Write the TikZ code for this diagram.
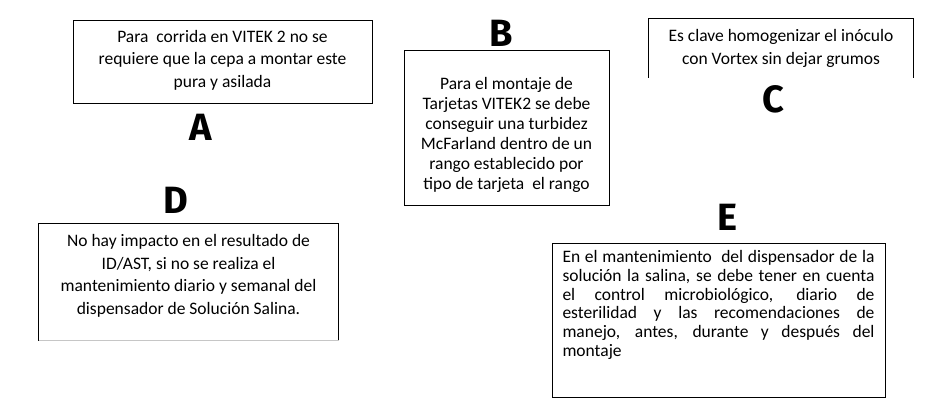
\documentclass[tikz,border=0pt]{standalone}
\usepackage{fontspec}
\setmainfont{Carlito}
\newfontfamily\tagfamily{Fira Sans}
\usetikzlibrary{positioning}

\tikzset{
	box/.style={line width=1pt, inner sep=0pt},
	note/.style={align=center, inner sep=0pt, font=\fontsize{17.5}{22.5}\selectfont},
	tag/.style={inner sep=0pt, font=\tagfamily\bfseries\fontsize{38}{38}\selectfont},
}

\begin{document}
\begin{tikzpicture}[x=1pt,y=-1pt]
	\useasboundingbox (0,0) rectangle (950,400);

	% draw the boxes
	\node[box, draw, minimum width=299pt, minimum height=83pt] (boxA) at (222.5,61.5) {};
	\node[box, draw, minimum width=205pt, minimum height=155pt] (boxB) at (506.5,127.5) {};
	\node[box, minimum width=264pt, minimum height=58pt] (boxC) at (781,48) {};
	\node[box, minimum width=299pt, minimum height=116pt] (boxD) at (188.5,282) {};
	\node[box, draw, minimum width=333pt, minimum height=154pt] (boxE) at (718.5,320) {};

	% box C has no bottom, box D only a faint one
	\draw[line width=1pt] (boxC.south west) |- (boxC.north east) -- (boxC.south east);
	\draw[line width=1pt] (boxD.south west) |- (boxD.north east) -- (boxD.south east);
	\draw[line width=1pt, gray!45] (boxD.south west) -- (boxD.south east);

	% the texts
	\node[note] (textA) at (222.5,60) {Para\ \ corrida en VITEK 2 no se\\requiere que la cepa a montar este\\pura y asilada};
	\node[note, font=\fontsize{17.5}{20}\selectfont] (textB) at (506.5,135) {Para el montaje de\\Tarjetas VITEK2 se debe\\conseguir una turbidez\\McFarland dentro de un\\rango establecido por\\tipo de tarjeta\ \ el rango};
	\node[note] (textC) at (781,48.5) {Es clave homogenizar el inóculo\\con Vortex sin dejar grumos};
	\node[note] (textD) at (188.5,276) {No hay impacto en el resultado de\\ID/AST, si no se realiza el\\mantenimiento diario y semanal del\\dispensador de Solución Salina.};
	\node[note, align=justify, text width=312pt, font=\fontsize{17.5}{18.7}\selectfont] (textE) at (718.5,305)
		{En el mantenimiento\ \ del dispensador de la\linebreak
		solución la salina, se debe tener en cuenta\linebreak
		el control microbiológico, diario de\linebreak
		esterilidad y las recomendaciones de\linebreak
		manejo, antes, durante y después del\linebreak
		montaje};

	% the letters
	\node[tag] (tagA) at (201,127.5) {A};
	\node[tag] (tagB) at (501,33) {B};
	\node[tag] (tagC) at (773,99) {C};
	\node[tag] (tagD) at (176,200) {D};
	\node[tag] (tagE) at (727,217) {E};
\end{tikzpicture}
\end{document}
